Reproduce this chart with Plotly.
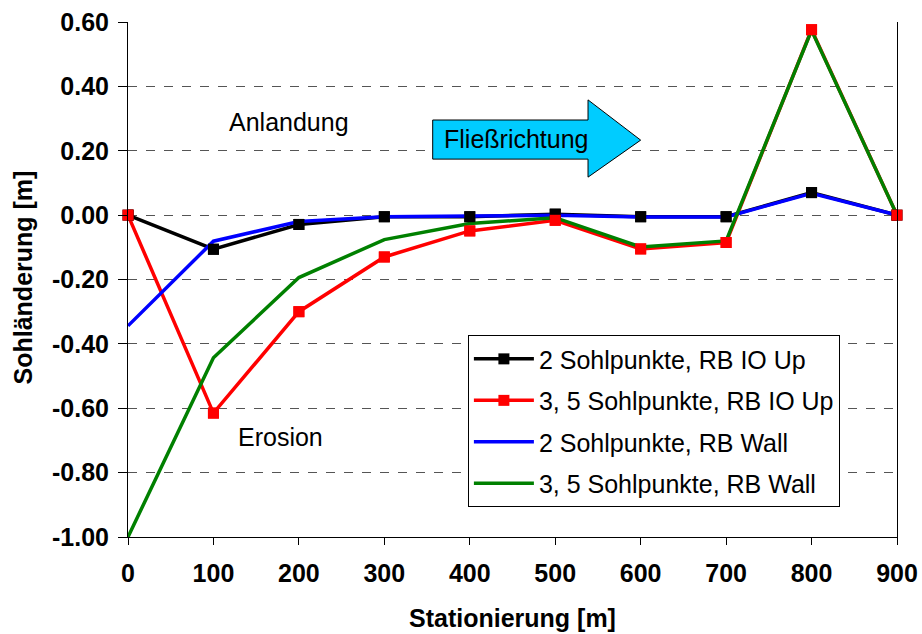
import plotly.graph_objects as go

stations = [0, 100, 200, 300, 400, 500, 600, 700, 800, 900]
black_io2 = [0.0, -0.106, -0.029, -0.005, -0.005, 0.003, -0.005, -0.005, 0.070, 0.0]
red_io35 = [0.0, -0.615, -0.300, -0.130, -0.049, -0.016, -0.105, -0.085, 0.576, 0.0]
blue_wall2 = [-0.344, -0.081, -0.020, -0.005, -0.003, 0.0, -0.006, -0.006, 0.068, 0.0]
green_wall35 = [-1.0, -0.443, -0.194, -0.076, -0.026, -0.008, -0.099, -0.080, 0.574, 0.0]
names = ["2 Sohlpunkte, RB IO Up", "3, 5 Sohlpunkte, RB IO Up",
         "2 Sohlpunkte, RB Wall", "3, 5 Sohlpunkte, RB Wall"]
yticks = [0.6, 0.4, 0.2, 0.0, -0.2, -0.4, -0.6, -0.8, -1.0]
ytick_text = [f"{v:.2f}" for v in yticks]
xticks = stations

FONT = "Liberation Sans, Arial, sans-serif"
FS = 25

fig = go.Figure()
fig.add_trace(go.Scatter(x=stations, y=black_io2, mode="lines+markers", name=names[0],
                         line=dict(color="black", width=3.5),
                         marker=dict(symbol="square", size=11, color="black"),
                         legendgroup="a"))
fig.add_trace(go.Scatter(x=stations, y=red_io35, mode="lines+markers", name=names[1],
                         line=dict(color="#ff0000", width=3.5),
                         marker=dict(symbol="square", size=11, color="#ff0000"),
                         legendgroup="b"))
fig.add_trace(go.Scatter(x=stations, y=blue_wall2, mode="lines", name=names[2],
                         line=dict(color="#0000ff", width=3.5), legendgroup="c"))
fig.add_trace(go.Scatter(x=stations, y=green_wall35, mode="lines", name=names[3],
                         line=dict(color="#008000", width=3.5), legendgroup="d"))
# markers on top
fig.add_trace(go.Scatter(x=stations, y=black_io2, mode="markers", showlegend=False,
                         cliponaxis=False,
                         marker=dict(symbol="square", size=11, color="black")))
fig.add_trace(go.Scatter(x=stations, y=red_io35, mode="markers", showlegend=False,
                         cliponaxis=False,
                         marker=dict(symbol="square", size=11, color="#ff0000")))

# flow-direction arrow (data coordinates)
fig.add_shape(type="path",
              path="M 356.6 0.2955 L 538.4 0.2955 L 538.4 0.358 L 600 0.233 L 538.4 0.118 L 538.4 0.174 L 356.6 0.174 Z",
              xref="x", yref="y", fillcolor="#00ccff", line=dict(color="black", width=1))
fig.add_annotation(x=455, y=0.235, xref="x", yref="y", text="Fließrichtung", showarrow=False,
                   font=dict(family=FONT, size=FS, color="black"))
fig.add_annotation(x=188, y=0.29, xref="x", yref="y", text="Anlandung", showarrow=False,
                   font=dict(family=FONT, size=FS, color="black"))
fig.add_annotation(x=178, y=-0.69, xref="x", yref="y", text="Erosion", showarrow=False,
                   font=dict(family=FONT, size=FS, color="black"))

# axis titles
fig.add_annotation(x=-0.1365, y=0.504, xref="paper", yref="paper", text="Sohländerung [m]",
                   textangle=-90, showarrow=False, xanchor="center", yanchor="middle",
                   font=dict(family=FONT, size=FS, color="black", weight="bold"))
fig.add_annotation(x=0.5, y=-0.157, xref="paper", yref="paper", text="Stationierung [m]",
                   showarrow=False, xanchor="center", yanchor="middle",
                   font=dict(family=FONT, size=FS, color="black", weight="bold"))

fig.update_layout(
    width=922, height=634,
    margin=dict(l=128, r=25, t=22, b=97),
    paper_bgcolor="white", plot_bgcolor="white",
    font=dict(family=FONT, color="black"),
    showlegend=True,
    legend=dict(x=0.442, y=0.392, xanchor="left", yanchor="top",
                bgcolor="white", bordercolor="black", borderwidth=1,
                font=dict(family=FONT, size=FS, color="black"),
                itemwidth=60,
                traceorder="grouped", tracegroupgap=6),
    xaxis=dict(range=[0, 900], tickvals=xticks, ticktext=[str(v) for v in xticks],
               tickfont=dict(family=FONT, size=FS, weight="bold"),
               showgrid=False, zeroline=False,
               showline=True, linecolor="black", linewidth=1, mirror=False,
               ticks="outside", ticklen=7, tickcolor="black",
               ticklabelstandoff=7, automargin=False),
    yaxis=dict(range=[-1.0, 0.6], tickvals=yticks, ticktext=ytick_text,
               tickfont=dict(family=FONT, size=FS, weight="bold"),
               showgrid=True, gridcolor="#555555", griddash="dash", gridwidth=1,
               zeroline=False,
               showline=True, linecolor="black", linewidth=1, mirror=True,
               ticks="outside", ticklen=9, tickcolor="black",
               ticklabelstandoff=4, automargin=False),
)

fig.write_html("out.html")
